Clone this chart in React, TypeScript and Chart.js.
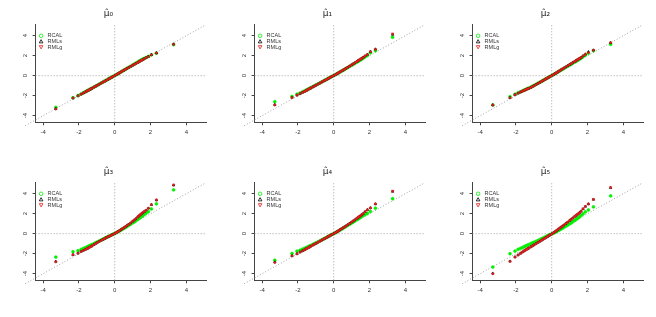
import React, { useEffect, useRef } from "react";
import { Chart, registerables } from "chart.js";
Chart.register(...registerables);

// theoretical normal quantiles (x axis)
const quantiles = [-3.29,-2.33,-2.05,-1.88,-1.75,-1.64,-1.55,-1.48,-1.41,-1.34,-1.28,-1.17,-1.08,-0.99,-0.88,-0.77,-0.67,-0.58,-0.50,-0.41,-0.33,-0.25,-0.18,-0.10,0,0.10,0.18,0.25,0.33,0.41,0.50,0.58,0.67,0.77,0.88,0.99,1.08,1.17,1.28,1.34,1.41,1.48,1.55,1.64,1.75,1.88,2.05,2.33,3.29];

const titles = ["\u03bc\u0302\u2080", "\u03bc\u0302\u2081", "\u03bc\u0302\u2082", "\u03bc\u0302\u2083", "\u03bc\u0302\u2084", "\u03bc\u0302\u2085"];
const seriesNames = ["RCAL", "RMLs", "RMLg"];
const xTicks = [-4, -2, 0, 2, 4];
const yTicks = [-4, -2, 0, 2, 4];
const xRange = [-4.42, 5.1];
const yRange = [-4.66, 5.09];
const diagEnds = [-5, 5];

// panel 1
const rcal0 = [-3.17,-2.20,-1.99,-1.84,-1.71,-1.61,-1.52,-1.45,-1.38,-1.32,-1.26,-1.15,-1.06,-0.97,-0.86,-0.75,-0.65,-0.56,-0.48,-0.39,-0.31,-0.23,-0.16,-0.08,0.01,0.11,0.19,0.27,0.35,0.44,0.53,0.62,0.72,0.82,0.93,1.05,1.14,1.24,1.35,1.42,1.50,1.57,1.64,1.72,1.81,1.92,2.08,2.25,3.10];
const rmls0 = [-3.30,-2.24,-2.01,-1.85,-1.73,-1.62,-1.54,-1.47,-1.40,-1.33,-1.27,-1.16,-1.07,-0.98,-0.87,-0.76,-0.66,-0.57,-0.49,-0.40,-0.32,-0.24,-0.17,-0.09,0.01,0.11,0.19,0.27,0.35,0.44,0.53,0.62,0.71,0.81,0.92,1.03,1.12,1.21,1.32,1.38,1.45,1.52,1.60,1.69,1.80,1.92,2.10,2.28,3.15];
const rmlg0 = [-3.33,-2.22,-2.02,-1.86,-1.73,-1.63,-1.54,-1.47,-1.40,-1.33,-1.27,-1.16,-1.07,-0.98,-0.87,-0.76,-0.66,-0.57,-0.49,-0.40,-0.32,-0.24,-0.17,-0.09,0.01,0.11,0.19,0.27,0.35,0.44,0.53,0.62,0.71,0.81,0.92,1.03,1.12,1.21,1.32,1.38,1.45,1.52,1.59,1.68,1.79,1.91,2.09,2.27,3.13];

// panel 2
const rcal1 = [-2.60,-2.08,-1.85,-1.74,-1.63,-1.54,-1.46,-1.40,-1.33,-1.27,-1.21,-1.11,-1.02,-0.93,-0.83,-0.73,-0.63,-0.54,-0.46,-0.38,-0.30,-0.22,-0.15,-0.07,0.01,0.11,0.19,0.26,0.34,0.43,0.52,0.60,0.70,0.80,0.92,1.03,1.13,1.22,1.34,1.41,1.48,1.56,1.64,1.74,1.88,2.02,2.28,2.50,3.84];
const rmls1 = [-2.90,-2.18,-1.95,-1.80,-1.68,-1.58,-1.50,-1.43,-1.36,-1.29,-1.23,-1.13,-1.04,-0.95,-0.84,-0.74,-0.64,-0.55,-0.47,-0.39,-0.31,-0.23,-0.16,-0.08,0.01,0.11,0.19,0.27,0.35,0.44,0.53,0.62,0.72,0.83,0.95,1.07,1.17,1.27,1.40,1.47,1.55,1.63,1.72,1.83,1.97,2.12,2.41,2.65,4.12];
const rmlg1 = [-2.93,-2.18,-1.95,-1.80,-1.68,-1.58,-1.50,-1.43,-1.36,-1.29,-1.23,-1.13,-1.04,-0.95,-0.84,-0.74,-0.64,-0.55,-0.47,-0.39,-0.31,-0.23,-0.16,-0.08,0.01,0.11,0.19,0.27,0.35,0.44,0.53,0.62,0.72,0.83,0.95,1.07,1.17,1.27,1.40,1.47,1.55,1.63,1.72,1.83,1.97,2.12,2.41,2.63,4.20];

// panel 3
const rcal2 = [-2.93,-2.10,-1.86,-1.72,-1.62,-1.53,-1.46,-1.40,-1.34,-1.29,-1.24,-1.15,-1.06,-0.97,-0.87,-0.76,-0.66,-0.57,-0.49,-0.40,-0.32,-0.24,-0.17,-0.09,0.01,0.10,0.19,0.27,0.35,0.44,0.53,0.62,0.71,0.82,0.93,1.05,1.14,1.24,1.36,1.42,1.49,1.57,1.65,1.75,1.90,2.05,2.25,2.50,3.13];
const rmls2 = [-2.93,-2.20,-1.90,-1.75,-1.64,-1.56,-1.48,-1.42,-1.36,-1.31,-1.27,-1.18,-1.09,-1.00,-0.89,-0.78,-0.68,-0.58,-0.50,-0.41,-0.33,-0.25,-0.17,-0.09,0.01,0.11,0.20,0.28,0.37,0.46,0.56,0.65,0.75,0.86,0.98,1.10,1.20,1.30,1.42,1.49,1.56,1.64,1.72,1.82,1.98,2.15,2.38,2.55,3.30];
const rmlg2 = [-2.93,-2.20,-1.90,-1.75,-1.64,-1.56,-1.48,-1.42,-1.36,-1.31,-1.27,-1.18,-1.09,-1.00,-0.89,-0.78,-0.68,-0.58,-0.50,-0.41,-0.33,-0.25,-0.17,-0.09,0.01,0.11,0.20,0.28,0.37,0.46,0.56,0.65,0.75,0.86,0.98,1.10,1.20,1.30,1.42,1.49,1.56,1.64,1.72,1.82,1.98,2.12,2.30,2.55,3.30];

// panel 4
const rcal3 = [-2.34,-1.80,-1.70,-1.57,-1.47,-1.40,-1.33,-1.27,-1.21,-1.15,-1.10,-1.01,-0.92,-0.84,-0.74,-0.64,-0.56,-0.48,-0.41,-0.33,-0.26,-0.19,-0.13,-0.06,0.02,0.11,0.19,0.26,0.34,0.43,0.52,0.61,0.70,0.81,0.93,1.06,1.16,1.27,1.41,1.50,1.59,1.68,1.78,1.90,2.04,2.20,2.47,2.98,4.38];
const rmls3 = [-2.78,-2.10,-1.96,-1.78,-1.67,-1.58,-1.50,-1.43,-1.36,-1.29,-1.23,-1.11,-1.00,-0.90,-0.79,-0.68,-0.59,-0.50,-0.42,-0.34,-0.27,-0.20,-0.14,-0.07,0.02,0.12,0.21,0.29,0.38,0.48,0.58,0.68,0.79,0.92,1.06,1.22,1.35,1.48,1.66,1.76,1.87,1.98,2.08,2.20,2.34,2.54,2.90,3.36,4.85];
const rmlg3 = [-2.81,-2.10,-1.97,-1.78,-1.67,-1.58,-1.50,-1.43,-1.36,-1.29,-1.23,-1.11,-1.00,-0.90,-0.79,-0.68,-0.59,-0.50,-0.42,-0.34,-0.27,-0.20,-0.14,-0.07,0.02,0.12,0.21,0.29,0.38,0.48,0.58,0.68,0.79,0.92,1.06,1.22,1.35,1.48,1.66,1.76,1.87,1.98,2.08,2.20,2.34,2.54,2.91,3.38,4.88];

// panel 5
const rcal4 = [-2.66,-1.98,-1.75,-1.66,-1.56,-1.48,-1.41,-1.35,-1.29,-1.23,-1.18,-1.08,-1.00,-0.92,-0.82,-0.72,-0.63,-0.54,-0.47,-0.38,-0.30,-0.23,-0.16,-0.08,0.00,0.10,0.18,0.26,0.34,0.43,0.52,0.61,0.70,0.81,0.93,1.05,1.15,1.25,1.38,1.45,1.53,1.61,1.70,1.80,1.90,2.02,2.22,2.55,3.50];
const rmls4 = [-2.85,-2.21,-2.01,-1.84,-1.72,-1.62,-1.53,-1.46,-1.39,-1.32,-1.26,-1.15,-1.06,-0.97,-0.86,-0.75,-0.65,-0.56,-0.48,-0.39,-0.31,-0.23,-0.16,-0.08,0.01,0.11,0.20,0.28,0.37,0.46,0.56,0.65,0.76,0.88,1.01,1.15,1.26,1.37,1.52,1.60,1.69,1.78,1.88,2.00,2.20,2.39,2.58,2.97,4.22];
const rmlg4 = [-2.89,-2.22,-2.02,-1.84,-1.72,-1.62,-1.53,-1.46,-1.39,-1.32,-1.26,-1.15,-1.06,-0.97,-0.86,-0.75,-0.65,-0.56,-0.48,-0.39,-0.31,-0.23,-0.16,-0.08,0.01,0.11,0.20,0.28,0.37,0.46,0.56,0.65,0.76,0.88,1.01,1.15,1.26,1.37,1.52,1.60,1.69,1.78,1.88,2.00,2.20,2.39,2.59,2.99,4.27];

// panel 6
const rcal5 = [-3.34,-2.00,-1.74,-1.57,-1.47,-1.39,-1.32,-1.26,-1.20,-1.14,-1.09,-1.00,-0.93,-0.86,-0.77,-0.68,-0.60,-0.52,-0.45,-0.37,-0.30,-0.23,-0.17,-0.10,-0.02,0.06,0.13,0.20,0.27,0.35,0.44,0.52,0.61,0.72,0.84,0.96,1.07,1.18,1.32,1.40,1.49,1.58,1.67,1.82,1.98,2.18,2.37,2.68,3.78];
const rmls5 = [-3.97,-2.76,-2.33,-2.13,-1.97,-1.84,-1.74,-1.66,-1.58,-1.50,-1.44,-1.32,-1.22,-1.12,-1.00,-0.88,-0.77,-0.67,-0.58,-0.48,-0.39,-0.30,-0.22,-0.13,-0.03,0.09,0.19,0.29,0.40,0.51,0.63,0.73,0.85,0.99,1.14,1.30,1.43,1.56,1.72,1.80,1.90,2.00,2.10,2.24,2.48,2.72,2.97,3.42,4.60];
const rmlg5 = [-4.00,-2.78,-2.34,-2.14,-1.97,-1.84,-1.74,-1.66,-1.58,-1.50,-1.44,-1.32,-1.22,-1.12,-1.00,-0.88,-0.77,-0.67,-0.58,-0.48,-0.39,-0.30,-0.22,-0.13,-0.03,0.09,0.19,0.29,0.40,0.51,0.63,0.73,0.85,0.99,1.14,1.30,1.43,1.56,1.72,1.80,1.90,2.00,2.10,2.24,2.50,2.74,2.98,3.44,4.62];

const panels = [
  { rcal: rcal0, rmls: rmls0, rmlg: rmlg0 },
  { rcal: rcal1, rmls: rmls1, rmlg: rmlg1 },
  { rcal: rcal2, rmls: rmls2, rmlg: rmlg2 },
  { rcal: rcal3, rmls: rmls3, rmlg: rmlg3 },
  { rcal: rcal4, rmls: rmls4, rmlg: rmlg4 },
  { rcal: rcal5, rmls: rmls5, rmlg: rmlg5 },
];

const GREEN = "#00f000";
const BLACK = "#000000";
const RED = "#e61c1c";
const GUIDE = "#a0a0a0";
const AXIS = "#444444";
const FONT = "'Liberation Sans', Arial, sans-serif";

const colLefts = [0, 219, 437];
const rowTops = [0, 158];
const CANVAS_W = 208;
const CANVAS_H = 158;

const qqLegend = {
  id: "qqLegend",
  afterDatasetsDraw(chart: any) {
    const { ctx, chartArea } = chart;
    ctx.save();
    seriesNames.forEach((name, i) => {
      const ds = chart.data.datasets.find((d: any) => d.label === name);
      if (!ds) return;
      const cx = chartArea.left + 5.5;
      const cy = chartArea.top + 11 + i * 5.65;
      const r = 1.8;
      ctx.strokeStyle = ds.borderColor;
      ctx.lineWidth = 0.8;
      ctx.beginPath();
      if (ds.pointStyle === "circle") {
        ctx.arc(cx, cy, r, 0, Math.PI * 2);
      } else if (ds.rotation === 180) {
        ctx.moveTo(cx - r, cy - r * 0.8);
        ctx.lineTo(cx + r, cy - r * 0.8);
        ctx.lineTo(cx, cy + r);
        ctx.closePath();
      } else {
        ctx.moveTo(cx - r, cy + r * 0.8);
        ctx.lineTo(cx + r, cy + r * 0.8);
        ctx.lineTo(cx, cy - r);
        ctx.closePath();
      }
      ctx.stroke();
      ctx.fillStyle = "#333";
      ctx.font = `5.5px ${FONT}`;
      ctx.textBaseline = "middle";
      ctx.textAlign = "left";
      ctx.fillText(name, chartArea.left + 12, cy);
    });
    ctx.restore();
  },
};

function Panel({ idx }: { idx: number }) {
  const ref = useRef<HTMLCanvasElement | null>(null);
  useEffect(() => {
    const p = panels[idx];
    const pts = (ys: number[]) => quantiles.map((x, i) => ({ x, y: ys[i] }));
    const pointDs = (label: string, ys: number[], color: string, style: string, rotation: number, order: number) => ({
      label,
      data: pts(ys),
      pointStyle: style,
      rotation,
      borderColor: color,
      backgroundColor: color,
      pointRadius: 1.45,
      borderWidth: 0.6,
      order,
    });
    const guide = (label: string, data: { x: number; y: number }[]) => ({
      label,
      data,
      showLine: true,
      pointRadius: 0,
      borderColor: GUIDE,
      borderWidth: 1,
      borderDash: [1, 2],
      clip: false,
      order: 10,
    });
    const chart = new Chart(ref.current as HTMLCanvasElement, {
      type: "scatter",
      data: {
        datasets: [
          pointDs("RCAL", p.rcal, GREEN, "circle", 0, 3),
          pointDs("RMLs", p.rmls, BLACK, "triangle", 0, 2),
          pointDs("RMLg", p.rmlg, RED, "triangle", 180, 1),
          guide("diag", [{ x: diagEnds[0], y: diagEnds[0] }, { x: diagEnds[1], y: diagEnds[1] }]),
          guide("h0", [{ x: xRange[0], y: 0 }, { x: xRange[1], y: 0 }]),
          guide("v0", [{ x: 0, y: yRange[0] }, { x: 0, y: yRange[1] }]),
        ] as any,
      },
      options: {
        animation: false,
        responsive: false,
        events: [],
        layout: { padding: { left: 0, right: 13, top: 0, bottom: 0 } },
        plugins: {
          legend: { display: false },
          tooltip: { enabled: false },
          title: {
            display: true,
            text: titles[idx],
            color: "#222",
            font: { family: "'DejaVu Sans', sans-serif", size: 9, weight: "normal" as any },
            padding: { top: 8, bottom: 6 },
          },
        },
        scales: {
          x: {
            type: "linear",
            min: xRange[0],
            max: xRange[1],
            afterBuildTicks: (s: any) => {
              s.ticks = xTicks.map((v) => ({ value: v }));
            },
            afterFit: (s: any) => {
              s.height = 35.7;
            },
            grid: { display: true, drawOnChartArea: false, drawTicks: true, tickLength: 3, color: AXIS, lineWidth: 1 },
            border: { display: true, color: AXIS, width: 1 },
            ticks: { font: { family: FONT, size: 6 }, color: "#333", padding: 3, maxRotation: 0, minRotation: 0, autoSkip: false },
          },
          y: {
            type: "linear",
            min: yRange[0],
            max: yRange[1],
            afterBuildTicks: (s: any) => {
              s.ticks = yTicks.map((v) => ({ value: v }));
            },
            afterFit: (s: any) => {
              s.width = 24.6;
            },
            grid: { display: true, drawOnChartArea: false, drawTicks: true, tickLength: 3, color: AXIS, lineWidth: 1 },
            border: { display: true, color: AXIS, width: 1 },
            ticks: { font: { family: FONT, size: 6 }, color: "#333", padding: 5, minRotation: 90, maxRotation: 90, crossAlign: "center", autoSkip: false },
          },
        },
      } as any,
      plugins: [qqLegend],
    });
    return () => chart.destroy();
  }, [idx]);
  const c = idx % 3;
  const r = Math.floor(idx / 3);
  return (
    <canvas
      ref={ref}
      width={CANVAS_W}
      height={CANVAS_H}
      style={{ position: "absolute", left: colLefts[c] + 11, top: rowTops[r], width: CANVAS_W, height: CANVAS_H }}
    />
  );
}

export default function App() {
  return (
    <div style={{ position: "fixed", left: 0, top: 0, width: 656, height: 317, background: "#fff", overflow: "hidden" }}>
      {panels.map((_, i) => (
        <Panel key={i} idx={i} />
      ))}
    </div>
  );
}
